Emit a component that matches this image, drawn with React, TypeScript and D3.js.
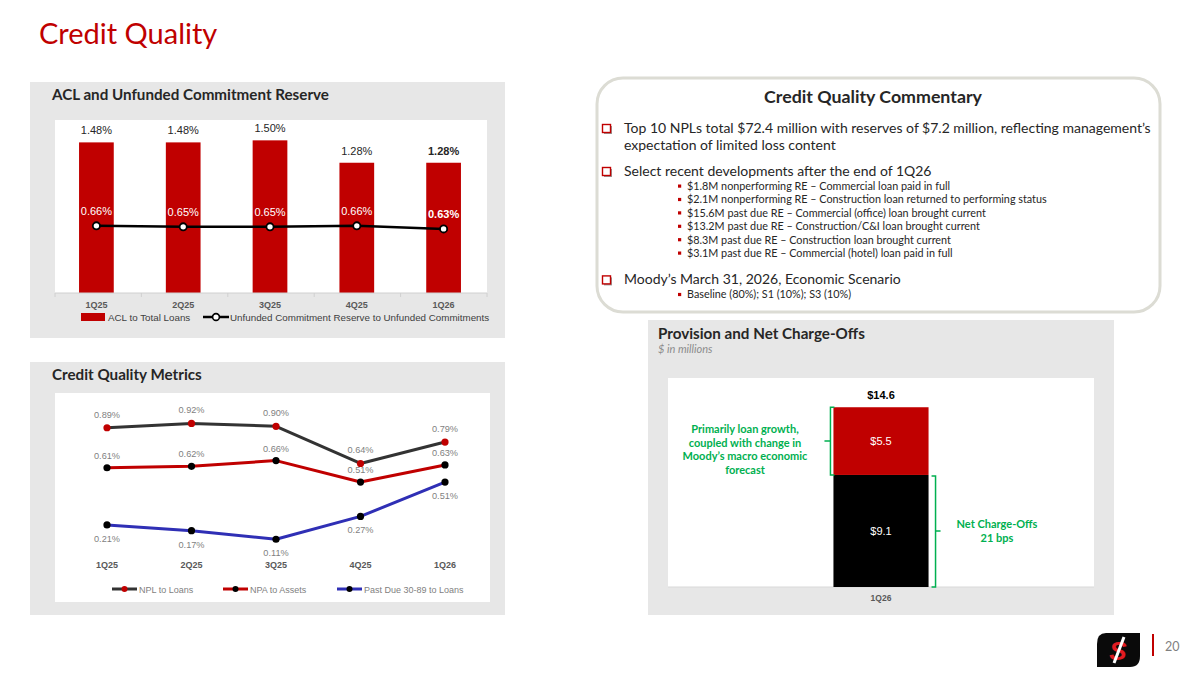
import React from 'react';
import * as d3 from 'd3';

// ---------- DATA ----------
const quarters = ['1Q25', '2Q25', '3Q25', '4Q25', '1Q26'];
const aclToLoans = [1.48, 1.48, 1.5, 1.28, 1.28];
const unfundedReserve = [0.66, 0.65, 0.65, 0.66, 0.63];

const nplToLoans = [0.89, 0.92, 0.9, 0.64, 0.79];
const npaToAssets = [0.61, 0.62, 0.66, 0.51, 0.63];
const pastDueToLoans = [0.21, 0.17, 0.11, 0.27, 0.51];

const provisionQuarter = ['1Q26'];
const netChargeOffs = [9.1];
const reserveBuild = [5.5];

const commentaryBullets = [
  {
    lines: [
      'Top 10 NPLs total $72.4 million with reserves of $7.2 million, reflecting management\u2019s',
      'expectation of limited loss content',
    ],
    subs: [] as string[],
  },
  {
    lines: ['Select recent developments after the end of 1Q26'],
    subs: [
      '$1.8M nonperforming RE \u2013 Commercial loan paid in full',
      '$2.1M nonperforming RE \u2013 Construction loan returned to performing status',
      '$15.6M past due RE \u2013 Commercial (office) loan brought current',
      '$13.2M past due RE \u2013 Construction/C&I loan brought current',
      '$8.3M past due RE \u2013 Construction loan brought current',
      '$3.1M past due RE \u2013 Commercial (hotel) loan paid in full',
    ],
  },
  {
    lines: ['Moody\u2019s March 31, 2026, Economic Scenario'],
    subs: ['Baseline (80%); S1 (10%); S3 (10%)'],
  },
];

const RED = '#c00000';
const GREEN = '#00b050';
const PANEL = '#e7e7e7';
const HEAD = 'Lato, "Open Sans", sans-serif';
const ARIAL = '"Liberation Sans", Arial, sans-serif';
const fmtPct = (v: number) => `${v.toFixed(2)}%`;

function AclChart() {
  const x = d3.scaleBand<string>().domain(quarters).range([53, 487]).paddingInner(0.6).paddingOuter(0.3);
  const y = d3.scaleLinear().domain([0, 1.7]).range([293, 120]);
  const cx = (q: string) => (x(q) as number) + x.bandwidth() / 2;
  const line = d3
    .line<number>()
    .x((_, i) => cx(quarters[i]))
    .y((d) => y(d));
  return (
    <g>
      <rect x={30} y={82} width={475} height={256} fill={PANEL} />
      <text x={52} y={100} fontFamily={HEAD} fontWeight={700} fontSize={15.2} fill="#262626">
        ACL and Unfunded Commitment Reserve
      </text>
      <rect x={55} y={120} width={432} height={173} fill="#fff" />
      {aclToLoans.map((v, i) => (
        <g key={quarters[i]}>
          <rect x={x(quarters[i])} y={y(v)} width={x.bandwidth()} height={y(0) - y(v)} fill={RED} />
          <text
            x={cx(quarters[i])}
            y={y(v) - 8}
            textAnchor="middle"
            fontFamily={ARIAL}
            fontSize={11}
            fontWeight={i === quarters.length - 1 ? 700 : 400}
            fill="#262626"
          >
            {fmtPct(v)}
          </text>
        </g>
      ))}
      <line x1={55} x2={487} y1={y(0)} y2={y(0)} stroke="#d0d0d0" strokeWidth={1} />
      {d3.range(quarters.length + 1).map((i) => {
        const xx = 55 + i * ((487 - 55) / quarters.length);
        return <line key={i} x1={xx} x2={xx} y1={y(0)} y2={y(0) + 4} stroke="#d0d0d0" />;
      })}
      <path d={line(unfundedReserve) || ''} fill="none" stroke="#000" strokeWidth={2.5} />
      {unfundedReserve.map((v, i) => (
        <g key={'u' + i}>
          <circle cx={cx(quarters[i])} cy={y(v)} r={3.6} fill="#fff" stroke="#000" strokeWidth={1.8} />
          <text
            x={cx(quarters[i])}
            y={y(v) - 11}
            textAnchor="middle"
            fontFamily={ARIAL}
            fontSize={11}
            fontWeight={i === quarters.length - 1 ? 700 : 400}
            fill="#fff"
          >
            {fmtPct(v)}
          </text>
        </g>
      ))}
      {quarters.map((q) => (
        <text key={q} x={cx(q)} y={308} textAnchor="middle" fontFamily={ARIAL} fontSize={9} fontWeight={700} fill="#595959">
          {q}
        </text>
      ))}
      <rect x={81} y={313} width={24} height={8} fill={RED} />
      <text x={108} y={321} fontFamily={ARIAL} fontSize={9.8} fill="#404040">
        ACL to Total Loans
      </text>
      <line x1={203} x2={229} y1={317} y2={317} stroke="#000" strokeWidth={2.5} />
      <circle cx={216} cy={317} r={3.4} fill="#fff" stroke="#000" strokeWidth={1.6} />
      <text x={230} y={321} fontFamily={ARIAL} fontSize={9.8} fill="#404040">
        Unfunded Commitment Reserve to Unfunded Commitments
      </text>
    </g>
  );
}

function MetricsChart() {
  const x = d3.scalePoint<string>().domain(quarters).range([107, 445]);
  const y = d3.scaleLinear().domain([0, 1]).range([555, 412]);
  const line = d3
    .line<number>()
    .x((_, i) => x(quarters[i]) as number)
    .y((d) => y(d));
  const series = [
    { name: 'NPL to Loans', values: nplToLoans, color: '#333333', marker: RED, labelDy: -10, lx: 112 },
    { name: 'NPA to Assets', values: npaToAssets, color: RED, marker: '#000', labelDy: -9, lx: 223 },
    { name: 'Past Due 30-89 to Loans', values: pastDueToLoans, color: '#2f2fb5', marker: '#000', labelDy: 17, lx: 337 },
  ];
  return (
    <g>
      <rect x={30} y={362} width={475} height={253} fill={PANEL} />
      <text x={52} y={380} fontFamily={HEAD} fontWeight={700} fontSize={15.2} fill="#262626">
        Credit Quality Metrics
      </text>
      <rect x={55} y={393} width={435} height={209} fill="#fff" />
      {series.map((s) => (
        <path key={s.name} d={line(s.values) || ''} fill="none" stroke={s.color} strokeWidth={3} strokeLinejoin="round" />
      ))}
      {series.map((s) =>
        s.values.map((v, i) => (
          <g key={s.name + i}>
            <circle cx={x(quarters[i])} cy={y(v)} r={3.6} fill={s.marker} />
            <text
              x={x(quarters[i]) as number}
              y={y(v) + s.labelDy}
              textAnchor="middle"
              fontFamily={ARIAL}
              fontSize={9.2}
              fill="#7f7f7f"
            >
              {fmtPct(v)}
            </text>
          </g>
        ))
      )}
      {quarters.map((q) => (
        <text key={q} x={x(q)} y={568} textAnchor="middle" fontFamily={ARIAL} fontSize={9} fontWeight={700} fill="#595959">
          {q}
        </text>
      ))}
      {series.map((s) => (
        <g key={'lg' + s.name}>
          <line x1={s.lx} x2={s.lx + 25} y1={589} y2={589} stroke={s.color} strokeWidth={3} />
          <circle cx={s.lx + 12.5} cy={589} r={3} fill={s.marker} />
          <text x={s.lx + 27} y={592.5} fontFamily={ARIAL} fontSize={9} fill="#7f7f7f">
            {s.name}
          </text>
        </g>
      ))}
    </g>
  );
}

function ProvisionChart() {
  const x = d3.scaleBand<string>().domain(provisionQuarter).range([668, 1094]).padding(0.635);
  const y = d3.scaleLinear().domain([0, 16]).range([587, 390]);
  const q = provisionQuarter[0];
  const bx = x(q) as number;
  const bw = x.bandwidth();
  const cx = bx + bw / 2;
  const nco = netChargeOffs[0];
  const rb = reserveBuild[0];
  const total = nco + rb;
  const lbx = bx - 3;
  const rbx = bx + bw + 7;
  return (
    <g>
      <rect x={648} y={320} width={466} height={295} fill={PANEL} />
      <text x={658} y={339} fontFamily={HEAD} fontWeight={700} fontSize={15.2} fill="#262626">
        Provision and Net Charge-Offs
      </text>
      <text x={658} y={353} fontFamily={HEAD} fontStyle="italic" fontSize={11} fill="#8c8c8c">
        $ in millions
      </text>
      <rect x={668} y={378} width={426} height={209} fill="#fff" />
      <line x1={668} x2={1094} y1={587} y2={587} stroke="#d9d9d9" />
      <rect x={bx} y={y(nco)} width={bw} height={y(0) - y(nco)} fill="#000" />
      <rect x={bx} y={y(total)} width={bw} height={y(nco) - y(total)} fill={RED} />
      <text x={cx} y={y(total) - 8} textAnchor="middle" fontFamily={ARIAL} fontWeight={700} fontSize={11} fill="#000">
        ${total.toFixed(1)}
      </text>
      <text x={cx} y={(y(nco) + y(total)) / 2 + 4} textAnchor="middle" fontFamily={ARIAL} fontSize={11} fill="#fff">
        ${rb.toFixed(1)}
      </text>
      <text x={cx} y={(y(0) + y(nco)) / 2 + 4} textAnchor="middle" fontFamily={ARIAL} fontSize={11} fill="#fff">
        ${nco.toFixed(1)}
      </text>
      <text x={cx} y={601} textAnchor="middle" fontFamily={ARIAL} fontWeight={700} fontSize={8.5} fill="#595959">
        {q}
      </text>
      <path
        d={`M${lbx + 4},${y(total)} H${lbx} V${y(nco)} H${lbx + 4} M${lbx},${(y(total) + y(nco)) / 2} H${lbx - 6}`}
        fill="none"
        stroke={GREEN}
        strokeWidth={1.5}
      />
      <path
        d={`M${rbx - 4},${y(nco) + 1} H${rbx} V${y(0)} H${rbx - 4} M${rbx},${(y(nco) + y(0)) / 2} H${rbx + 5}`}
        fill="none"
        stroke={GREEN}
        strokeWidth={1.5}
      />
      {['Primarily loan growth,', 'coupled with change in', 'Moody\u2019s macro economic', 'forecast'].map((t, i) => (
        <text key={t} x={745} y={433 + i * 13.5} textAnchor="middle" fontFamily={HEAD} fontWeight={700} fontSize={11} fill={GREEN}>
          {t}
        </text>
      ))}
      {['Net Charge-Offs', '21 bps'].map((t, i) => (
        <text key={t} x={997} y={528 + i * 13.5} textAnchor="middle" fontFamily={HEAD} fontWeight={700} fontSize={11} fill={GREEN}>
          {t}
        </text>
      ))}
    </g>
  );
}

function Commentary() {
  let yy = 133;
  const items: React.ReactNode[] = [];
  commentaryBullets.forEach((b, bi) => {
    b.lines.forEach((ln, li) => {
      if (li === 0) {
        items.push(
          <g key={`sq${bi}`}>
            <rect x={604} y={yy - 7} width={8} height={8} fill="#999" />
            <rect x={602.5} y={yy - 8.5} width={8} height={8} fill="#fff" stroke={RED} strokeWidth={1.4} />
          </g>
        );
      }
      items.push(
        <text key={`l${bi}-${li}`} x={624} y={yy} fontFamily={HEAD} fontSize={14} fill="#262626">
          {ln}
        </text>
      );
      yy += 17;
    });
    b.subs.forEach((s, si) => {
      yy += si === 0 ? -3 : 0;
      items.push(
        <g key={`s${bi}-${si}`}>
          <rect x={678} y={yy - 5.5} width={3.2} height={3.2} fill={RED} />
          <text x={687} y={yy} fontFamily={HEAD} fontSize={10.8} fill="#262626">
            {s}
          </text>
        </g>
      );
      yy += 13.4;
    });
    yy += bi === 0 ? 9 : 14;
  });
  return (
    <g>
      <rect x={597} y={78} width={563} height={234} rx={26} fill="#fff" stroke="#dcdcd4" strokeWidth={3} />
      <text x={873} y={103} textAnchor="middle" fontFamily={HEAD} fontWeight={700} fontSize={17.8} fill="#262626">
        Credit Quality Commentary
      </text>
      {items}
    </g>
  );
}

function Logo() {
  return (
    <g>
      <path d="M1106,633 H1140 V656 Q1140,667 1130,667 H1097 V644 Q1097,633 1106,633 Z" fill="#0a0a0a" />
      <text x={1118} y={660} textAnchor="middle" fontFamily={ARIAL} fontWeight={700} fontStyle="italic" fontSize={26} fill="#e01b22">
        S
      </text>
      <line x1={1114} y1={663} x2={1124} y2={637} stroke="#fff" strokeWidth={3} />
      <line x1={1153} x2={1153} y1={634} y2={656} stroke={RED} strokeWidth={2} />
      <text x={1165} y={651} fontFamily={HEAD} fontSize={12.5} fill="#7f7f7f">
        20
      </text>
    </g>
  );
}

export default function App() {
  return (
    <svg width={1200} height={675} style={{ position: 'absolute', left: 0, top: 0, background: '#fff' }}>
      <rect x={0} y={0} width={1200} height={675} fill="#fff" />
      <text x={39} y={44} fontFamily={HEAD} fontSize={29} fill={RED}>
        Credit Quality
      </text>
      <AclChart />
      <MetricsChart />
      <Commentary />
      <ProvisionChart />
      <Logo />
    </svg>
  );
}
